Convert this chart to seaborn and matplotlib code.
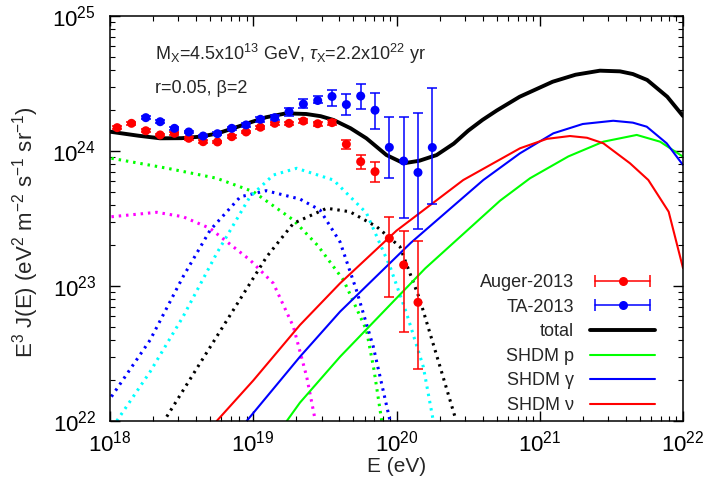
import numpy as np
import pandas as pd
import matplotlib
matplotlib.use("Agg")
import matplotlib.pyplot as plt
import seaborn as sns
from matplotlib.lines import Line2D
from matplotlib.legend_handler import HandlerLine2D, HandlerTuple

# ---------------- data (log10 values) ----------------
auger_logE = [18.05, 18.15, 18.25, 18.35, 18.45, 18.55, 18.65, 18.75, 18.85, 18.95, 19.05,
              19.15, 19.25, 19.35, 19.45, 19.55, 19.65, 19.75, 19.85, 19.95, 20.05, 20.15]
auger_logJ = [24.173, 24.205, 24.150, 24.119, 24.131, 24.094, 24.069, 24.067, 24.106, 24.141, 24.176,
              24.205, 24.205, 24.222, 24.202, 24.210, 24.050, 23.921, 23.847, 23.353, 23.156, 22.879]
auger_up = [0.01, 0.01, 0.01, 0.01, 0.01, 0.01, 0.01, 0.01, 0.01, 0.01, 0.01,
            0.01, 0.012, 0.012, 0.015, 0.02, 0.031, 0.047, 0.072, 0.160, 0.254, 0.457]
auger_dn = [0.01, 0.01, 0.01, 0.01, 0.01, 0.01, 0.01, 0.01, 0.01, 0.01, 0.01,
            0.01, 0.012, 0.012, 0.015, 0.02, 0.037, 0.052, 0.074, 0.437, 0.495, 0.496]

ta_logE = [18.25, 18.35, 18.45, 18.55, 18.65, 18.75, 18.85, 18.95, 19.05, 19.15, 19.25,
           19.35, 19.45, 19.55, 19.65, 19.75, 19.85, 19.95, 20.05, 20.15, 20.25]
ta_logJ = [24.247, 24.217, 24.168, 24.141, 24.111, 24.128, 24.168, 24.193, 24.235, 24.247, 24.291,
           24.348, 24.374, 24.404, 24.344, 24.407, 24.302, 24.027, 23.926, 23.841, 24.026]
ta_up = [0.01, 0.01, 0.01, 0.01, 0.01, 0.01, 0.012, 0.015, 0.02, 0.02, 0.028,
         0.037, 0.033, 0.048, 0.076, 0.087, 0.125, 0.223, 0.324, 0.438, 0.438]
ta_dn = [0.01, 0.01, 0.01, 0.01, 0.01, 0.01, 0.012, 0.015, 0.02, 0.02, 0.032,
         0.032, 0.016, 0.068, 0.077, 0.098, 0.141, 0.229, 0.425, 0.421, 0.421]

total_logE = [18.0, 18.2, 18.35, 18.5, 18.63, 18.75, 18.86, 18.98, 19.09, 19.23, 19.37, 19.47,
              19.56, 19.68, 19.79, 19.93, 20.05, 20.16, 20.28, 20.4, 20.5, 20.6, 20.7, 20.86, 21.09,
              21.25, 21.42, 21.56, 21.65, 21.75, 21.89, 22.0]
total_logJ = [24.143, 24.113, 24.094, 24.095, 24.106, 24.130, 24.168, 24.212, 24.25, 24.279, 24.274, 24.258,
              24.23, 24.168, 24.094, 23.97, 23.909, 23.928, 23.97, 24.055, 24.15, 24.23, 24.30, 24.402, 24.513,
              24.565, 24.595, 24.59, 24.57, 24.526, 24.402, 24.259]

nu_logE = [18.745, 19.0, 19.326, 19.606, 20.0, 20.466, 20.862, 21.05, 21.211, 21.33, 21.444,
           21.63, 21.758, 21.9, 22.0]
nu_logJ = [22.0, 22.3, 22.711, 23.02, 23.41, 23.785, 24.02, 24.09, 24.111, 24.098, 24.057,
           23.909, 23.785, 23.55, 23.133]

gam_logE = [18.954, 19.326, 19.606, 20.1, 20.606, 20.862, 21.095, 21.3, 21.513, 21.65, 21.747,
            21.886, 22.0]
gam_logJ = [22.0, 22.476, 22.81, 23.32, 23.785, 23.983, 24.131, 24.2, 24.224, 24.21, 24.18,
            24.057, 23.896]

p_logE = [19.234, 19.326, 19.606, 20.2, 20.723, 20.932, 21.2, 21.444, 21.677, 21.84, 22.0]
p_logJ = [22.0, 22.136, 22.476, 23.13, 23.632, 23.798, 23.96, 24.069, 24.119, 24.069, 23.958]

pdot_logE = [18.01, 18.4, 18.745, 19.0, 19.28, 19.45, 19.63, 19.79, 19.843, 19.897]
pdot_logJ = [23.946, 23.872, 23.798, 23.699, 23.489, 23.30, 23.044, 22.674, 22.378, 22.0]

gdot_logE = [18.01, 18.28, 18.51, 18.7, 18.91, 19.09, 19.326, 19.466, 19.606, 19.72, 19.838, 19.955]
gdot_logJ = [22.18, 22.6, 23.069, 23.415, 23.661, 23.706, 23.644, 23.563, 23.326, 22.97, 22.55, 22.0]

cdot_logE = [18.047, 18.28, 18.51, 18.745, 18.977, 19.14, 19.303, 19.56, 19.79, 19.955, 20.07,
             20.187, 20.257]
cdot_logJ = [22.0, 22.365, 22.773, 23.242, 23.661, 23.822, 23.872, 23.785, 23.541, 23.143, 22.798,
             22.402, 22.0]

kdot_logE = [18.396, 18.628, 18.861, 19.094, 19.28, 19.513, 19.675, 19.862, 20.024, 20.164,
             20.304, 20.408]
kdot_logJ = [22.032, 22.427, 22.822, 23.217, 23.464, 23.576, 23.55, 23.439, 23.291, 22.896,
             22.402, 22.032]

mdot_logE = [18.01, 18.326, 18.51, 18.698, 18.977, 19.14, 19.28, 19.373, 19.43]
mdot_logJ = [23.513, 23.546, 23.513, 23.427, 23.193, 23.02, 22.699, 22.328, 22.02]

legend_labels = ["Auger-2013", "TA-2013", "total", "SHDM p", "SHDM \u03b3", "SHDM \u03bd"]

# ---------------- style ----------------
sns.set_theme(style="ticks")
plt.rcParams['font.family'] = ['Liberation Sans', 'DejaVu Sans']
plt.rcParams['mathtext.fontset'] = 'custom'
plt.rcParams['mathtext.rm'] = 'Liberation Sans'
plt.rcParams['mathtext.it'] = 'Liberation Sans:italic'
plt.rcParams['mathtext.bf'] = 'Liberation Sans:bold'
plt.rcParams['mathtext.sf'] = 'Liberation Sans'

W, H = 708, 496
fig = plt.figure(figsize=(W / 100, H / 100), dpi=100)
ax = fig.add_axes([110 / W, 75 / H, 573 / W, 405 / H])
ax.set_xscale('log')
ax.set_yscale('log')


def curve(logE, logJ, color, lw, ls='-'):
    df = pd.DataFrame({'E': 10 ** np.array(logE), 'J': 10 ** np.array(logJ)})
    sns.lineplot(data=df, x='E', y='J', ax=ax, color=color, lw=lw, linestyle=ls,
                 estimator=None, sort=False, legend=False)


dot = (0, (0.8, 1.6))
curve(pdot_logE, pdot_logJ, '#00ff00', 2.2, dot)
curve(gdot_logE, gdot_logJ, '#0000ff', 2.2, dot)
curve(cdot_logE, cdot_logJ, '#00ffff', 2.2, dot)
curve(kdot_logE, kdot_logJ, '#000000', 2.2, dot)
curve(mdot_logE, mdot_logJ, '#ff00ff', 2.2, dot)

curve(p_logE, p_logJ, '#00ff00', 1.5)
curve(gam_logE, gam_logJ, '#0000ff', 1.5)
curve(nu_logE, nu_logJ, '#ff0000', 1.5)
curve(total_logE, total_logJ, '#000000', 2.8)


def data_points(logE, logJ, up, dn, color):
    E = 10 ** np.array(logE)
    J = 10 ** np.array(logJ)
    lo = J - 10 ** (np.array(logJ) - np.array(dn))
    hi = 10 ** (np.array(logJ) + np.array(up)) - J
    ax.errorbar(E, J, yerr=[lo, hi], fmt='none', ecolor=color, elinewidth=1.1,
                capsize=3.5, capthick=1.1)
    sns.scatterplot(x=E, y=J, ax=ax, color=color, s=42, edgecolor='none', legend=False, zorder=5)


data_points(auger_logE, auger_logJ, auger_up, auger_dn, '#ff0000')
data_points(ta_logE, ta_logJ, ta_up, ta_dn, '#0000ff')

ax.set_xlim(1e18, 1e22)
ax.set_ylim(1e22, 1e25)

for s in ax.spines.values():
    s.set_linewidth(1.1)
    s.set_color('black')
ax.tick_params(which='both', direction='in', top=True, right=True, colors='black')
ax.tick_params(which='major', length=7, width=1.0, labelsize=16)
ax.tick_params(axis='x', which='major', pad=7)
ax.tick_params(axis='y', which='major', pad=10)
ax.tick_params(which='minor', length=3.5, width=0.8)
ax.set_xticks([1e18, 1e19, 1e20, 1e21, 1e22])
ax.set_yticks([1e22, 1e23, 1e24, 1e25])

ax.set_xlabel("E (eV)", fontsize=15, labelpad=0)
ax.set_ylabel(r"E$^3$ J(E) (eV$^2$ m$^{-2}$ s$^{-1}$ sr$^{-1}$)", fontsize=16)
ax.yaxis.set_label_coords((41 - 110) / 573, 0.467)

fig.text(155 / W, 1 - 60 / H,
         r"M$_{\rm X}$=4.5x10$^{13}$ GeV, $\tau_{\rm X}$=2.2x10$^{22}$ yr",
         fontsize=13, va='baseline', ha='left')
fig.text(155 / W, 1 - 93 / H, "r=0.05, \u03b2=2", fontsize=13, va='baseline', ha='left')

# legend
def eb_handle(color):
    bar = Line2D([], [], color=color, lw=1.1, marker='|', markersize=8, markeredgewidth=1.1)
    pt = Line2D([], [], color=color, lw=0, marker='o', markersize=6.5, markeredgewidth=0)
    return (bar, pt), {bar: HandlerLine2D(numpoints=2), pt: HandlerLine2D(numpoints=1)}


h_a, m_a = eb_handle('#ff0000')
h_t, m_t = eb_handle('#0000ff')
handles = [h_a, h_t,
           Line2D([], [], color='black', lw=2.8),
           Line2D([], [], color='#00ff00', lw=1.5),
           Line2D([], [], color='#0000ff', lw=1.5),
           Line2D([], [], color='#ff0000', lw=1.5)]
hmap = {tuple: HandlerTuple(ndivide=1)}
hmap.update(m_a)
hmap.update(m_t)
ax.legend(handles, legend_labels, handler_map=hmap, loc='lower right',
          bbox_to_anchor=((655 - 110) / 573, (421 - 414) / 405), frameon=False,
          markerfirst=False, fontsize=13, handlelength=3.6, handletextpad=0.9,
          labelspacing=0.42, borderpad=0, borderaxespad=0)

fig.savefig("out.png", dpi=100)
